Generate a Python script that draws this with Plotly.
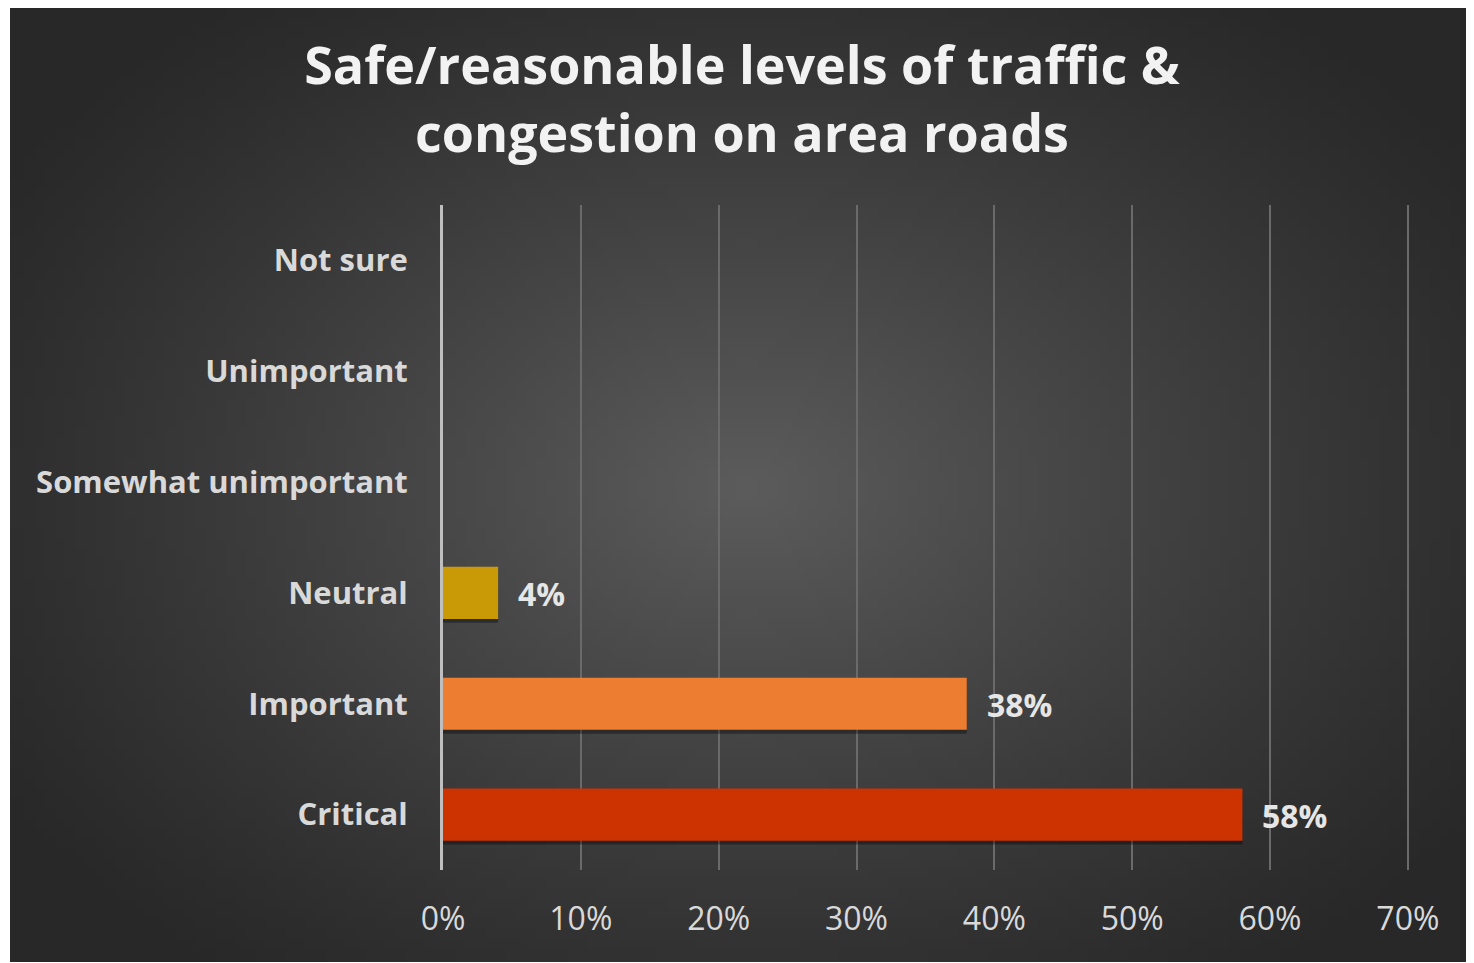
import base64, struct, zlib
import plotly.graph_objects as go

categories = ["Not sure", "Unimportant", "Somewhat unimportant", "Neutral", "Important", "Critical"]
values = [0, 0, 0, 4, 38, 58]
bar_colors = ["#C99A06", "#C99A06", "#C99A06", "#C99A06", "#ED7D31", "#CC3300"]
x_ticks = [0, 10, 20, 30, 40, 50, 60, 70]
x_tick_labels = ["0%", "10%", "20%", "30%", "40%", "50%", "60%", "70%"]
title_text = "Safe/reasonable levels of traffic &<br>congestion on area roads"

# page body has an 8px margin; figure is sized so the plot lands where the reference has it
OFF = 8
X_MAX = 70.3
PX_PER_UNIT = (1408 - 443) / 70
W, H = 1474 - OFF, 963 - OFF
ML = 443 - OFF
MT = 205 - OFF
RIGHT = 443 + X_MAX * PX_PER_UNIT
MR = int(round(W - (RIGHT - OFF)))
MB = H - (870 - OFF)
PW, PH = W - ML - MR, H - MT - MB
BAR_W = 0.47


def gradient_png(w, h):
    cx, cy = w * 0.50, h * 0.50
    rx, ry = w * 0.60, h * 0.64
    raw = b""
    for j in range(h):
        row = b"\x00"
        for i in range(w):
            d = (((i - cx) / rx) ** 2 + ((j - cy) / ry) ** 2) ** 0.5
            d = min(d, 1.0)
            v = int(round(40 + 52 * (1 - d) ** 1.15))
            row += bytes((v, v, v))
        raw += row

    def chunk(t, data):
        c = struct.pack(">I", len(data)) + t + data
        return c + struct.pack(">I", zlib.crc32(t + data) & 0xffffffff)

    png = b"\x89PNG\r\n\x1a\n"
    png += chunk(b"IHDR", struct.pack(">IIBBBBB", w, h, 8, 2, 0, 0, 0))
    png += chunk(b"IDAT", zlib.compress(raw, 9))
    png += chunk(b"IEND", b"")
    return "data:image/png;base64," + base64.b64encode(png).decode()


def fx(px):  # reference pixel x -> paper x
    return (px - OFF - ML) / PW


def fy(py):  # reference pixel y -> paper y
    return (H - MB - (py - OFF)) / PH


bg = gradient_png(146, 96)

fig = go.Figure()
# soft drop shadow under the bars
fig.add_trace(go.Bar(
    y=categories, x=values, orientation="h",
    width=BAR_W, offset=-BAR_W / 2 + 0.035,
    marker=dict(color="rgba(0,0,0,0.35)", line=dict(width=0)),
    hoverinfo="skip",
))
fig.add_trace(go.Bar(
    y=categories, x=values, orientation="h",
    width=BAR_W, offset=-BAR_W / 2,
    marker=dict(color=bar_colors, line=dict(width=0)),
    hoverinfo="skip",
))

annotations = []
for c, v in zip(categories, values):
    if v > 0:
        annotations.append(dict(
            x=v, y=c, xref="x", yref="y", text=f"<b>{v}%</b>",
            showarrow=False, xanchor="left", xshift=18, yshift=-1,
            font=dict(family="Open Sans", size=32, color="#E6E6E6"),
        ))

fig.update_layout(
    width=W, height=H,
    margin=dict(l=ML, r=MR, t=MT, b=MB, pad=0),
    paper_bgcolor="white",
    plot_bgcolor="rgba(0,0,0,0)",
    showlegend=False,
    barmode="overlay",
    title=dict(
        text=f"<b>{title_text}</b>",
        x=(742 - OFF) / W, xref="container", xanchor="center",
        y=1 - (84 - OFF) / H, yref="container", yanchor="middle",
        font=dict(family="Open Sans", size=52, color="#F2F2F2"),
    ),
    images=[dict(
        source=bg, xref="paper", yref="paper",
        x=fx(10), y=fy(3),
        sizex=fx(1474) - fx(10),
        sizey=fy(3) - fy(962),
        xanchor="left", yanchor="top", sizing="stretch", layer="below",
    )],
    annotations=annotations,
    xaxis=dict(
        range=[0, X_MAX], tickvals=x_ticks, ticktext=x_tick_labels,
        showgrid=True, gridcolor="#6A6A6A", gridwidth=2,
        zeroline=False, showline=False, ticks="",
        ticklabelstandoff=27,
        tickfont=dict(family="Open Sans", size=32, color="#D9D9D9"),
        fixedrange=True,
    ),
    yaxis=dict(
        categoryorder="array", categoryarray=categories, autorange="reversed",
        showgrid=False, zeroline=False,
        showline=True, linecolor="#BFBFBF", linewidth=3,
        ticks="", ticklabelstandoff=26,
        tickfont=dict(family="Open Sans", size=31, color="#D9D9D9", weight="bold"),
        fixedrange=True,
    ),
)

fig.write_html("out.html", config={"displayModeBar": False})
